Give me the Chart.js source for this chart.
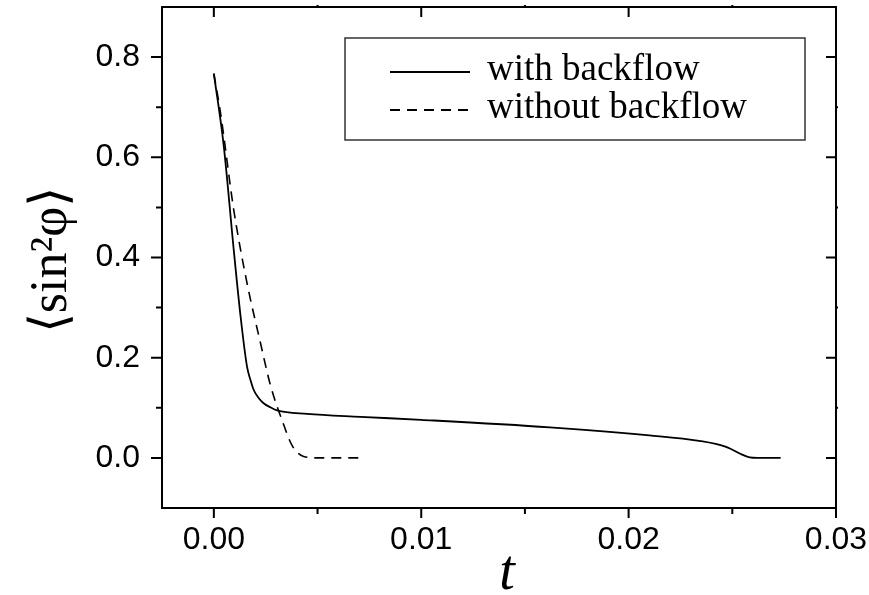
<!DOCTYPE html>
<html lang="en">
<head>
    <meta charset="UTF-8">
    <title>sin^2 phi vs t</title>
    <script src="https://cdn.jsdelivr.net/npm/chart.js"></script>
    <style>
        html, body { margin: 0; padding: 0; background: #fff; }
        #wrap { width: 869px; height: 595px; }
    </style>
</head>
<body>
<div id="wrap"><canvas id="grafico" width="869" height="595"></canvas></div>
<script>
// curve with backflow (t, <sin^2 phi>)
const comT = [0, 0.00048, 0.00096, 0.00129, 0.0016, 0.00177, 0.00193, 0.00217, 0.0024, 0.00273, 0.00305, 0.0045, 0.00706, 0.01, 0.0162, 0.021, 0.0234, 0.0247, 0.0255, 0.02584, 0.0262, 0.02733];
const comY = [0.767, 0.622, 0.415, 0.282, 0.182, 0.155, 0.135, 0.119, 0.109, 0.101, 0.095, 0.088, 0.082, 0.076, 0.061, 0.045, 0.034, 0.022, 0.006, 0.001, 0, 0];

// curve without backflow
const semT = [0, 0.00032, 0.00096, 0.0016, 0.00225, 0.00273, 0.00337, 0.00377, 0.00433, 0.005, 0.00714];
const semY = [0.767, 0.689, 0.495, 0.349, 0.229, 0.145, 0.066, 0.025, 0.003, 0, 0];

const legendas = ['with backflow', 'without backflow'];

// ticks
const xMaiores = [0, 0.01, 0.02, 0.03];
const xLabels = ['0.00', '0.01', '0.02', '0.03'];
const xMenores = [0.005, 0.015, 0.025];
const yMaiores = [0, 0.2, 0.4, 0.6, 0.8];
const yLabels = ['0.0', '0.2', '0.4', '0.6', '0.8'];
const yMenores = [0.1, 0.3, 0.5, 0.7];

const fonteTicks = { family: "'Liberation Sans', Arial, sans-serif", size: 32 };
const serifa = "'Liberation Serif', 'Times New Roman', serif";

// moldura, ticks dos quatro lados, titulos dos eixos e a legenda
const moldura = {
    id: 'moldura',
    afterDraw(chart) {
        const ctx = chart.ctx;
        const a = chart.chartArea;
        const sx = chart.scales.x, sy = chart.scales.y;
        ctx.save();
        ctx.strokeStyle = '#000';
        ctx.lineWidth = 2;
        ctx.strokeRect(a.left, a.top, a.right - a.left, a.bottom - a.top);

        ctx.beginPath();
        xMaiores.forEach(v => {
            const px = sx.getPixelForValue(v);
            ctx.moveTo(px, a.bottom); ctx.lineTo(px, a.bottom + 10);
            ctx.moveTo(px, a.top); ctx.lineTo(px, a.top + 10);
        });
        xMenores.forEach(v => {
            const px = sx.getPixelForValue(v);
            ctx.moveTo(px, a.bottom); ctx.lineTo(px, a.bottom + 6);
            ctx.moveTo(px, a.top); ctx.lineTo(px, a.top - 2);
        });
        yMaiores.forEach(v => {
            const py = sy.getPixelForValue(v);
            ctx.moveTo(a.left, py); ctx.lineTo(a.left - 11, py);
            ctx.moveTo(a.right, py); ctx.lineTo(a.right - 10, py);
        });
        yMenores.forEach(v => {
            const py = sy.getPixelForValue(v);
            ctx.moveTo(a.left, py); ctx.lineTo(a.left - 6, py);
            ctx.moveTo(a.right, py); ctx.lineTo(a.right + 2, py);
        });
        ctx.stroke();

        // titulo do eixo x
        ctx.fillStyle = '#000';
        ctx.font = 'italic 56px ' + serifa;
        ctx.textAlign = 'center';
        ctx.textBaseline = 'alphabetic';
        ctx.fillText('t', 507, 589);

        // titulo do eixo y
        ctx.save();
        ctx.translate(66, 260);
        ctx.rotate(-Math.PI / 2);
        ctx.font = '52px ' + serifa;
        ctx.fillText('\u27E8sin\u00B2\u03C6\u27E9', 0, 0);
        ctx.restore();

        // legenda
        ctx.lineWidth = 1.5;
        ctx.strokeStyle = '#333';
        ctx.strokeRect(345, 38, 460, 102);
        ctx.font = '37px ' + serifa;
        ctx.textAlign = 'left';
        const linhas = [72, 110];
        chart.data.datasets.forEach((ds, i) => {
            ctx.beginPath();
            ctx.strokeStyle = '#000';
            ctx.lineWidth = 1.8;
            ctx.setLineDash(ds.borderDash || []);
            ctx.moveTo(390, linhas[i]);
            ctx.lineTo(470, linhas[i]);
            ctx.stroke();
            ctx.setLineDash([]);
            ctx.fillText(legendas[i], 487, linhas[i] + 8);
        });
        ctx.restore();
    }
};

new Chart(document.getElementById('grafico'), {
    type: 'scatter',
    data: {
        datasets: [{
            label: legendas[0],
            data: comT.map((t, i) => ({ x: t, y: comY[i] })),
            showLine: true,
            borderColor: '#000',
            borderWidth: 1.8,
            pointRadius: 0,
            cubicInterpolationMode: 'monotone'
        }, {
            label: legendas[1],
            data: semT.map((t, i) => ({ x: t, y: semY[i] })),
            showLine: true,
            borderColor: '#000',
            borderWidth: 1.6,
            borderDash: [10, 7],
            pointRadius: 0,
            cubicInterpolationMode: 'monotone'
        }]
    },
    options: {
        responsive: false,
        animation: false,
        devicePixelRatio: 1,
        layout: { padding: { top: 7, right: 33, left: 0, bottom: 0 } },
        plugins: { legend: { display: false }, tooltip: { enabled: false } },
        scales: {
            x: {
                type: 'linear',
                min: -0.0025,
                max: 0.03,
                grid: { display: false, drawTicks: false },
                border: { display: false },
                afterBuildTicks: s => { s.ticks = xMaiores.map(v => ({ value: v })); },
                afterFit: s => { s.height = 87; s.paddingLeft = 0; s.paddingRight = 0; },
                ticks: {
                    callback: (v, i) => xLabels[i],
                    font: fonteTicks,
                    color: '#000',
                    padding: 13,
                    maxRotation: 0,
                    autoSkip: false
                }
            },
            y: {
                type: 'linear',
                min: -0.1,
                max: 0.9,
                grid: { display: false, drawTicks: false },
                border: { display: false },
                afterBuildTicks: s => { s.ticks = yMaiores.map(v => ({ value: v })); },
                afterFit: s => { s.width = 162; s.paddingTop = 0; s.paddingBottom = 0; },
                ticks: {
                    callback: (v, i) => yLabels[i],
                    font: fonteTicks,
                    color: '#000',
                    padding: 22,
                    autoSkip: false
                }
            }
        }
    },
    plugins: [moldura]
});
</script>
</body>
</html>
